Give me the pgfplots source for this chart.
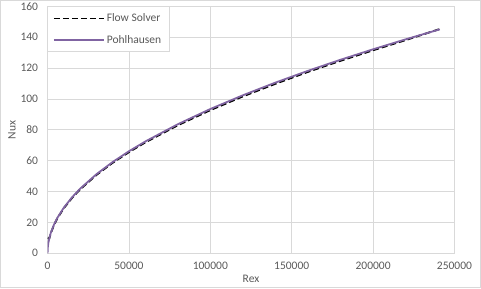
\documentclass[border=0pt]{standalone}
\usepackage{pgfplots}
\pgfplotsset{compat=1.18}
\usepackage{fontspec}
\setmainfont{Carlito}
\definecolor{gridc}{HTML}{D9D9D9}
\definecolor{tickc}{HTML}{595959}
\definecolor{purp}{HTML}{8064A2}
\begin{document}
\begin{tikzpicture}
\useasboundingbox (-47.5pt,-34.8pt) rectangle (433pt,253pt);
\begin{axis}[
  scale only axis, width=406.5pt, height=246.7pt,
  xmin=0, xmax=250000, ymin=0, ymax=160,
  xtick={0,50000,100000,150000,200000,250000},
  xticklabels={0,50000,100000,150000,200000,250000},
  scaled x ticks=false,
  ytick={0,20,40,60,80,100,120,140,160},
  yticklabels={0,20,40,60,80,100,120,140,160},
  grid=major, major grid style={gridc, line width=0.75pt},
  axis line style={gridc, line width=0.75pt},
  major tick length=0pt,
  tick label style={font=\fontsize{11.5}{13}\selectfont, text=tickc},
  yticklabel style={xshift=-6pt},
  xticklabel style={yshift=-5pt},
  xlabel={Rex}, ylabel={Nux},
  label style={font=\fontsize{11.5}{13}\selectfont, text=tickc},
  xlabel style={at={(rel axis cs:0.5,0)}, anchor=center, yshift=-25.5pt},
  ylabel style={at={(rel axis cs:0,0.5)}, anchor=center, yshift=35.5pt},
  legend style={at={(rel axis cs:0,1)}, anchor=north west, xshift=-1pt, yshift=0pt,
    draw=gridc, line width=0.75pt, fill=white, font=\fontsize{11.5}{13}\selectfont,
    text=tickc, row sep=8pt, inner xsep=6pt, inner ysep=5pt},
  legend cell align=left,
  legend image code/.code={\draw[#1] (-2pt,0pt) -- (48pt,0pt);},
]
\addplot[black, line width=1.8pt, dash pattern=on 6pt off 3pt] coordinates {
(300,10.2) (600,9.6) (1000,9.4) (2000,13.0) (4000,18.4) (6000,22.6) (10000,29.2)
(15000,35.8) (20000,41.4) (30000,50.7) (40000,58.6) (50000,65.5) (60000,71.8)
(80000,82.9) (100000,92.7) (120000,101.6) (140000,109.8) (160000,117.5)
(180000,124.7) (200000,131.5) (220000,138.1) (241000,145.3)
};
\addlegendentry{Flow Solver}
\addplot[purp, line width=1.8pt] coordinates {
(0,0) (100,2.96) (200,4.18) (500,6.61) (1000,9.34) (2000,13.22) (4000,18.69)
(6000,22.89) (10000,29.55) (15000,36.19) (20000,41.79) (30000,51.18) (40000,59.10)
(50000,66.08) (60000,72.38) (80000,83.58) (100000,93.45) (120000,102.36)
(140000,110.57) (160000,118.20) (180000,125.37) (200000,132.15) (220000,138.60)
(241000,145.07)
};
\addlegendentry{Pohlhausen}
\end{axis}
\draw[gridc, line width=0.75pt] (-47pt,-34.3pt) rectangle (432.5pt,252.5pt);
\end{tikzpicture}
\end{document}
